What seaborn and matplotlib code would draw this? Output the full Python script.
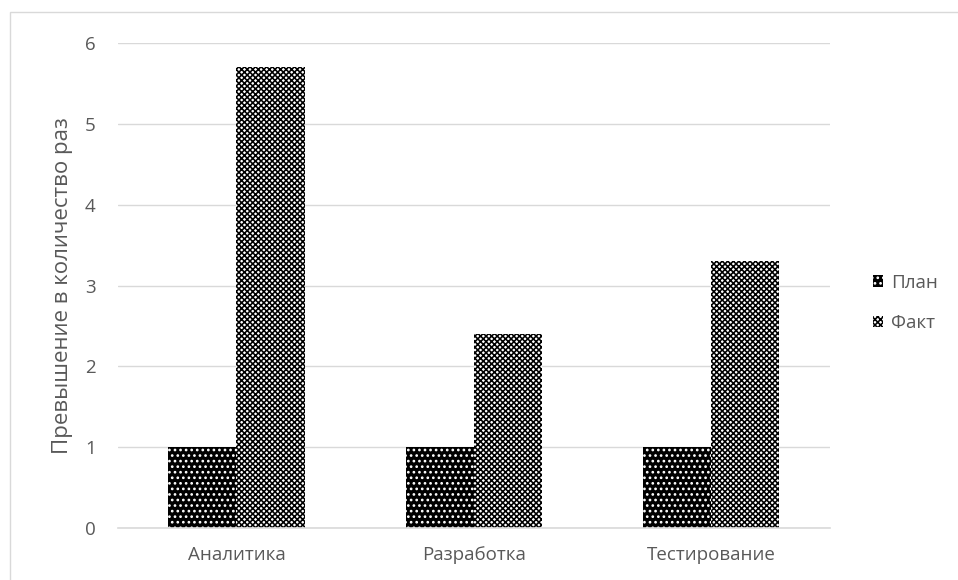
import numpy as np
import pandas as pd
import seaborn as sns
import matplotlib.pyplot as plt
from matplotlib.patches import Rectangle

categories = ["Аналитика", "Разработка", "Тестирование"]
plan_values = [1, 1, 1]
fact_values = [5.7, 2.4, 3.3]
series = ["План", "Факт"]


def main():
    df = pd.DataFrame({
        "stage": categories * 2,
        "value": plan_values + fact_values,
        "series": [series[0]] * 3 + [series[1]] * 3,
    })

    sns.set_style("white")
    plt.rcParams['font.family'] = ['Open Sans', 'DejaVu Sans']
    plt.rcParams['hatch.linewidth'] = 1.15
    text_color = "#595959"
    grid_color = "#d9d9d9"

    fig = plt.figure(figsize=(9.58, 5.8), dpi=100)
    ax = fig.add_axes([0.123, 0.0897, 0.743, 0.836])

    sns.barplot(data=df, x="stage", y="value", hue="series", order=categories,
                hue_order=series, width=0.575, ax=ax, legend=False, saturation=1)

    # plan: black with white dots, fact: fine black/white checker
    styles = [
        dict(face="black", edge="white", hatch="..."),
        dict(face="white", edge="black", hatch="xxxxxx"),
    ]
    for cont, st in zip(ax.containers, styles):
        for bar in cont:
            bar.set_facecolor(st["face"])
            bar.set_edgecolor(st["edge"])
            bar.set_hatch(st["hatch"])
            bar.set_linewidth(0)

    ax.set_ylim(0, 6)
    ax.set_xlim(-0.5, 2.5)
    ax.set_yticks(range(0, 7))
    ax.yaxis.grid(True, color=grid_color, linewidth=1)
    ax.set_axisbelow(True)
    for s in ["top", "right", "left"]:
        ax.spines[s].set_visible(False)
    ax.spines["bottom"].set_color(grid_color)
    ax.spines["bottom"].set_linewidth(1.2)

    ax.tick_params(axis="y", length=0, labelsize=13.5, labelcolor=text_color, pad=16)
    ax.tick_params(axis="x", which="major", length=0, labelsize=13.5,
                   labelcolor=text_color, pad=13)
    ax.set_xticks([-0.5, 0.5, 1.5, 2.5], minor=True)
    ax.tick_params(axis="x", which="minor", length=6, color=grid_color, width=1.2)

    ax.set_xlabel("")
    ax.set_ylabel("Превышение в количество раз")
    ax.yaxis.label.set_fontsize(16)
    ax.yaxis.label.set_color(text_color)
    ax.yaxis.set_label_coords(-0.063, 0.5)

    handles = [
        Rectangle((0, 0), 1, 1, facecolor="black", edgecolor="white", hatch="...", linewidth=0),
        Rectangle((0, 0), 1, 1, facecolor="white", edgecolor="black", hatch="xxxxxx", linewidth=0),
    ]
    leg = fig.legend(handles, series, loc="center left", bbox_to_anchor=(0.911, 0.478),
                     frameon=False, fontsize=13.5, labelspacing=1.2,
                     handlelength=0.55, handleheight=0.55, handletextpad=0.45,
                     borderaxespad=0, borderpad=0)
    for t in leg.get_texts():
        t.set_color(text_color)

    fig.patches.append(Rectangle((10 / 958, -0.01), 1.0, 1 - 12 / 580 + 0.01,
                                 transform=fig.transFigure, fill=False,
                                 edgecolor=grid_color, linewidth=1))

    fig.savefig("out.png", dpi=100)


main()
